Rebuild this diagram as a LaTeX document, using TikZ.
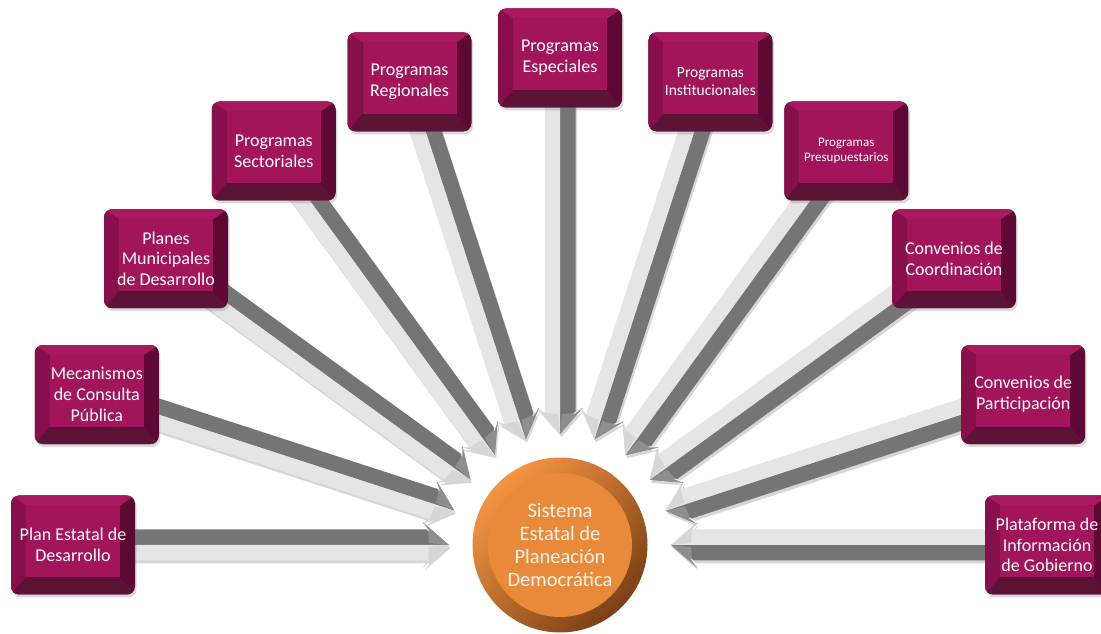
\documentclass[tikz,border=0pt]{standalone}
\usepackage{fontspec}
\setmainfont{Carlito}
\usetikzlibrary{calc,shadows}
\pgfdeclarelayer{arrowlayer}
\pgfsetlayers{arrowlayer,main}
\definecolor{facec}{HTML}{A2155A}
\definecolor{bevtop}{HTML}{A9195F}
\definecolor{bevleft}{HTML}{870F4C}
\definecolor{bevright}{HTML}{5D0934}
\definecolor{bevbot}{HTML}{5B1336}
\definecolor{arrdark}{HTML}{757575}
\definecolor{arrlight}{HTML}{E5E5E5}
\definecolor{headdark}{HTML}{8E8E8E}
\definecolor{headlight}{HTML}{D6D6D6}
\definecolor{orgA}{HTML}{F59542}
\definecolor{orgB}{HTML}{7A4015}
\definecolor{orgIn}{HTML}{E98A3B}
\definecolor{systext}{HTML}{FFF4EC}
\tikzset{
  bevbox/.style={rectangle, rounded corners=8pt, minimum width=124pt, minimum height=99pt,
    inner sep=0pt, fill=bevright, text=white, align=center,
    font=\fontsize{18}{20.7}\selectfont,
    drop shadow={opacity=0.3, shadow xshift=1.5pt, shadow yshift=-3pt},
    path picture={
      \begin{scope}[sharp corners]
      \fill[bevtop] (path picture bounding box.north west) -- (path picture bounding box.north east)
        -- ($(path picture bounding box.north east)+(-15,-10)$) -- ($(path picture bounding box.north west)+(15,-10)$) -- cycle;
      \fill[bevleft] (path picture bounding box.north west) -- ($(path picture bounding box.north west)+(15,-10)$)
        -- ($(path picture bounding box.south west)+(15,17)$) -- (path picture bounding box.south west) -- cycle;
      \fill[bevbot] (path picture bounding box.south west) -- ($(path picture bounding box.south west)+(15,17)$)
        -- ($(path picture bounding box.south east)+(-15,17)$) -- (path picture bounding box.south east) -- cycle;
      \fill[facec] ($(path picture bounding box.north west)+(15,-10)$) rectangle ($(path picture bounding box.south east)+(-15,17)$);
      \end{scope}
    }},
  smalltext/.style={font=\fontsize{15.5}{17.7}\selectfont},
  tinytext/.style={font=\fontsize{13}{15}\selectfont},
  sysnode/.style={circle, minimum size=175pt, inner sep=0pt, top color=orgA, bottom color=orgB,
    shading angle=45, text=systext, align=center, font=\fontsize{20.5}{23.3}\selectfont,
    path picture={\fill[orgIn] (path picture bounding box.center) circle (72pt);}},
}
\newcommand{\fatarrow}[2]{%
  \coordinate (tip-#1) at ($(C)!111pt!(#1.center)$);
  \begin{scope}[transform canvas={shift={(1.5pt,-3pt)}}]
    \fill[black, opacity=.16, shift={(tip-#1)}, rotate=#2+180]
      (-380,-15.5) -- (-21,-15.5) -- (-26,-22.5) -- (0,0) -- (-26,22.5) -- (-21,15.5) -- (-380,15.5) -- cycle;
  \end{scope}
  \begin{scope}[shift={(tip-#1)}, rotate=#2+180]
    \fill[arrdark] (-380,0) -- (-380,15.5) -- (-21,15.5) -- (-26,22.5) -- (0,0) -- cycle;
    \fill[arrlight] (-380,0) -- (-380,-15.5) -- (-21,-15.5) -- (-26,-22.5) -- (0,0) -- cycle;
    \fill[headdark] (-21,15.5) -- (-26,22.5) -- (0,0) -- (-20,2) -- cycle;
    \fill[headlight] (-21,-15.5) -- (-26,-22.5) -- (0,0) -- (-20,-2) -- cycle;
    \draw[white!92!gray, line width=0.9pt] (-25,20.5) -- (-20.5,14);
  \end{scope}}
\begin{document}
\begin{tikzpicture}[x=1pt,y=1pt]
\useasboundingbox (0,0) rectangle (1101,634);
\coordinate (C) at (560,89);
\node[bevbox] (pe)  at ($(C)+(180:487)$) {Plan Estatal de\\Desarrollo};
\node[bevbox] (mc)  at ($(C)+(162:487)$) {Mecanismos\\de Consulta\\Pública};
\node[bevbox] (pm)  at ($(C)+(144:487)$) {Planes\\Municipales\\de Desarrollo};
\node[bevbox] (ps)  at ($(C)+(126:487)$) {Programas\\Sectoriales};
\node[bevbox] (pr)  at ($(C)+(108:487)$) {Programas\\Regionales};
\node[bevbox] (pes) at ($(C)+(90:487)$)  {Programas\\Especiales};
\node[bevbox, smalltext] (pi) at ($(C)+(72:487)$) {Programas\\Institucionales};
\node[bevbox, tinytext] (pp)  at ($(C)+(54:487)$) {Programas\\Presupuestarios};
\node[bevbox] (cc)  at ($(C)+(36:487)$)  {Convenios de\\Coordinación};
\node[bevbox] (cp)  at ($(C)+(18:487)$)  {Convenios de\\Participación};
\node[bevbox] (pig) at ($(C)+(0:487)$)   {Plataforma de\\Información\\de Gobierno};
\node[sysnode] (sys) at (C) {Sistema\\Estatal de\\Planeación\\Democrática};
\begin{pgfonlayer}{arrowlayer}
\fatarrow{pig}{0}
\fatarrow{cp}{18}
\fatarrow{cc}{36}
\fatarrow{pp}{54}
\fatarrow{pi}{72}
\fatarrow{pes}{90}
\fatarrow{pr}{108}
\fatarrow{ps}{126}
\fatarrow{pm}{144}
\fatarrow{mc}{162}
\fatarrow{pe}{180}
\end{pgfonlayer}
\end{tikzpicture}
\end{document}
